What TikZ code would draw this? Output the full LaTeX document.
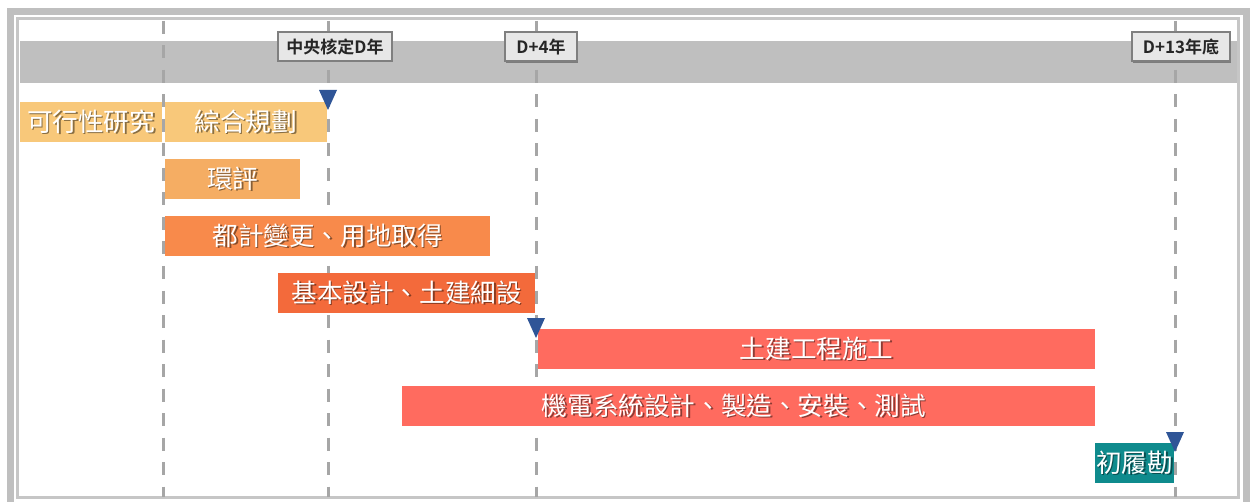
\documentclass[tikz,border=0pt]{standalone}
\usepackage{fontspec}
\newfontfamily\cjk{Noto Sans CJK TC}
\newfontfamily\cjkb{Noto Sans CJK TC Bold}
\usetikzlibrary{shadows}
\definecolor{framegray}{HTML}{BFBFBF}
\definecolor{thinline}{HTML}{C6C6C6}
\definecolor{bandgray}{HTML}{BFBFBF}
\definecolor{gridgray}{HTML}{A6A6A6}
\definecolor{boxfill}{HTML}{E7E7E7}
\definecolor{boxline}{HTML}{7F7F7F}
\definecolor{tri}{HTML}{2F5597}
\definecolor{cA}{HTML}{F8C87A}
\definecolor{cB}{HTML}{F5AD63}
\definecolor{cC}{HTML}{F88A4B}
\definecolor{cD}{HTML}{F36A3B}
\definecolor{cE}{HTML}{FF6B5F}
\definecolor{cF}{HTML}{0F8B8D}
\newcommand\shtxt[2]{\makebox[0pt][l]{\kern0.8pt\raisebox{-0.8pt}{\textcolor{#1!55!black}{#2}}}#2}
\tikzset{
  gridline/.style={draw=gridgray, line width=1.5pt, dash pattern=on 6.5pt off 5.75pt},
  msbox/.style={draw=boxline, fill=boxfill, line width=1pt, inner sep=0pt,
    font=\cjkb\fontsize{8.5}{9}\selectfont, text=black!85,
    drop shadow={shadow xshift=0.7pt, shadow yshift=-0.7pt, opacity=0.35, fill=black}},
  ganttbar/.style={draw=none, inner sep=0pt, anchor=north west, minimum height=20pt,
    text=white, font=\cjk\fontsize{12.8}{14}\selectfont},
  mstri/.style={fill=tri, draw=none},
}
% \gbar{name}{x1}{x2}{ytop}{color}{text}
\newcommand\gbar[6]{%
  \node[ganttbar, fill=#5, minimum width={(#3-#2)*0.5pt}] (#1) at (#2,#4) {\shtxt{#5}{#6}};}
\begin{document}
\begin{tikzpicture}[x=0.5pt, y=-0.5pt]
\useasboundingbox (0,0) rectangle (1252,502);
\clip (0,0) rectangle (1252,502);
% frame
\fill[framegray] (7,8) rectangle (1250,530);
\fill[white] (14,15) rectangle (1243,530);
\draw[thinline, line width=1.25pt, fill=white] (17.5,18.5) rectangle (1238.5,497.5);
% band
\fill[bandgray] (20,41) rectangle (1237,83);
% grid lines
\foreach \n/\x in {a/163, b/328, c/536, d/1175} {
  \coordinate (\n top) at (\x,21);
  \coordinate (\n bot) at (\x,497);
  \draw[gridline] (\n top) -- (\n bot);
}
% milestone boxes
\node[msbox, minimum width=57pt, minimum height=14.5pt] (ms1) at (335,46.5) {中央核定D年};
\node[msbox, minimum width=36pt, minimum height=14.5pt] (ms2) at (541,47) {D+4年};
\node[msbox, minimum width=49pt, minimum height=14.5pt] (ms3) at (1181,47) {D+13年底};
% bars
\gbar{b1}{20}{161.5}{102}{cA}{可行性研究}
\gbar{b2}{164.5}{326.5}{102}{cA}{綜合規劃}
\gbar{b3}{164.5}{300}{159}{cB}{環評}
\gbar{b4}{164.5}{490}{216}{cC}{都計變更、用地取得}
\gbar{b5}{278}{534.5}{273}{cD}{基本設計、土建細設}
\gbar{b6}{537.5}{1095}{329}{cE}{土建工程施工}
\gbar{b7}{402}{1095}{386}{cE}{\hspace*{-15pt}機電系統設計、製造、安裝、測試}
\gbar{b8}{1095}{1173.5}{443}{cF}{初履勘}
% milestone triangles
\coordinate (t1) at (328,110);
\coordinate (t2) at (536,338);
\coordinate (t3) at (1175,452);
\foreach \t in {t1,t2,t3}
  \fill[mstri] (\t) -- ++(-9,-20) -- ++(18,0) -- cycle;
\end{tikzpicture}
\end{document}
